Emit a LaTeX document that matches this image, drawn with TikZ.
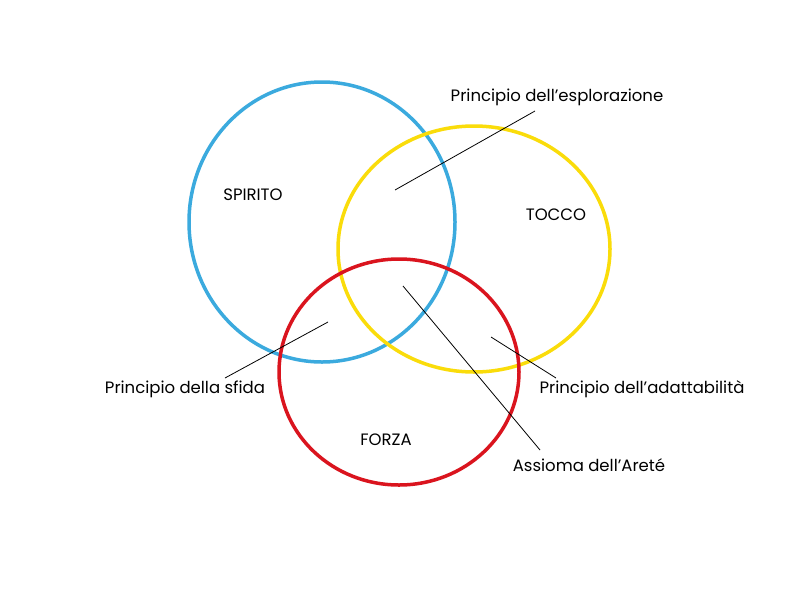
\documentclass[tikz,border=0pt]{standalone}
\usepackage{fontspec}
\setmainfont{Poppins}
\definecolor{cblue}{RGB}{59,170,222}
\definecolor{cyellow}{RGB}{250,220,10}
\definecolor{cred}{RGB}{218,20,30}
\begin{document}
\begin{tikzpicture}[x=1pt,y=-1pt,
  ring/.style={line width=3.5pt},
  lbl/.style={font=\fontsize{16.5}{19}\selectfont,inner sep=1pt},
  lead/.style={line width=0.8pt}]
\useasboundingbox (0,0) rectangle (800,600);
\fill[white] (0,0) rectangle (800,600);
\draw[ring,cblue] (322,222) ellipse [x radius=133,y radius=140];
\draw[ring,cyellow] (474,249) ellipse [x radius=136,y radius=123];
\draw[ring,cred] (399,372) ellipse [x radius=120,y radius=113];
\node[lbl] (sp) at (253,195) {SPIRITO};
\node[lbl] (to) at (556,215) {TOCCO};
\node[lbl] (fo) at (386,440) {FORZA};
\node[lbl] (pe) at (557,97) {Principio dell’esplorazione};
\node[lbl] (ps) at (185,389) {Principio della sfida};
\node[lbl] (pa) at (642,389) {Principio dell’adattabilità};
\node[lbl] (aa) at (589,465) {Assioma dell’Areté};
\coordinate (ce) at (395,190);
\coordinate (cs) at (328,322);
\coordinate (ca) at (491,337);
\coordinate (cx) at (403,286);
\draw[lead] (ce) -- (535,111);
\draw[lead] (cs) -- (225,378);
\draw[lead] (ca) -- (556,378);
\draw[lead] (cx) -- (540,450);
\end{tikzpicture}
\end{document}
